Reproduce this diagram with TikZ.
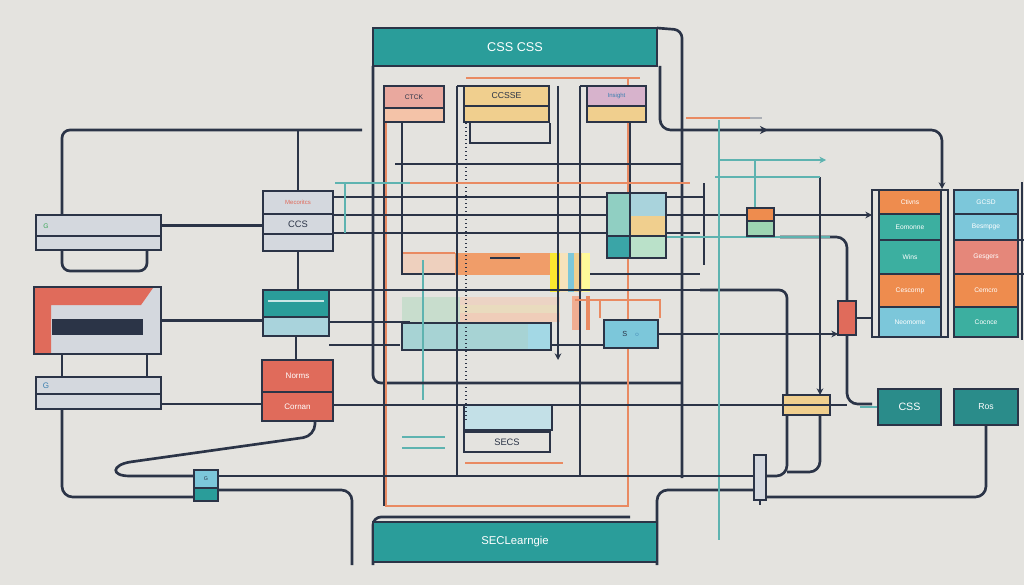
\documentclass[tikz,border=0pt]{standalone}
\usepackage{fontspec}
\setmainfont{Liberation Sans}
\usetikzlibrary{arrows.meta}
\pgfdeclarelayer{bgl}
\pgfdeclarelayer{back}
\pgfsetlayers{bgl,back,main}
\definecolor{bg}{HTML}{E4E3DF}
\definecolor{navy}{HTML}{2B3447}
\definecolor{tealA}{HTML}{2A9D9A}
\definecolor{tealB}{HTML}{3CAFA0}
\definecolor{tealC}{HTML}{2A8C8A}
\definecolor{coralA}{HTML}{E06B5B}
\definecolor{coralB}{HTML}{E5877A}
\definecolor{orangeA}{HTML}{EE8C4E}
\definecolor{lblueA}{HTML}{7CC7DA}
\definecolor{lblueB}{HTML}{A9D3DC}
\definecolor{sandA}{HTML}{F0CF8E}
\definecolor{pinkA}{HTML}{E9A89E}
\definecolor{peachA}{HTML}{F4C3A8}
\definecolor{lavA}{HTML}{D7B3CC}
\definecolor{grayA}{HTML}{D4D8DE}
\definecolor{mintA}{HTML}{9DD4B2}
\definecolor{greenA}{HTML}{3EA85A}
\definecolor{blueA}{HTML}{3A7FB0}
\definecolor{tealL}{HTML}{5EB3B0}
\definecolor{orangeL}{HTML}{E98A62}
\tikzset{
  box/.style={draw=navy,line width=2pt,inner sep=0pt,outer sep=0pt,text=white,font=\fontsize{6}{7}\selectfont},
  ln/.style={draw=navy,line width=2pt,rounded corners=6pt},
  tn/.style={draw=navy,line width=1.2pt},
  ol/.style={draw=orangeL,line width=1.3pt},
  tl/.style={draw=tealL,line width=0.8pt},
  arr/.style={-{Stealth[length=5pt,width=5pt]}},
}
\newcommand\bx[7]{%
  \pgfmathsetmacro\bxcx{(#2+#4)/2}%
  \pgfmathsetmacro\bxcy{(#3+#5)/2}%
  \pgfmathsetmacro\bxw{abs(#4-#2)*0.75}%
  \pgfmathsetmacro\bxh{abs(#5-#3)*0.75}%
  \node[box,#6,minimum width=\bxw pt,minimum height=\bxh pt] (#1) at (\bxcx,\bxcy) {#7};}
\begin{document}
\begin{tikzpicture}[x=0.75pt,y=-0.75pt]
\begin{pgfonlayer}{bgl}
\fill[bg] (0,0) rectangle (1024,585);
\end{pgfonlayer}
\useasboundingbox (0,0) rectangle (1024,585);

% ---------- boxes ----------
\bx{hdr}{373}{28}{657}{66}{fill=tealA,font=\fontsize{9.5}{11}\selectfont}{CSS CSS}
\bx{ftr}{373}{522}{657}{562}{fill=tealA,font=\fontsize{8.5}{10}\selectfont}{SECLearngie}
\bx{b1a}{384}{86}{444}{108}{fill=pinkA,text=navy,font=\fontsize{5}{6}\selectfont}{CTCK}
\bx{b1b}{384}{108}{444}{122}{fill=peachA}{}
\bx{b2a}{464}{86}{549}{106}{fill=sandA,text=navy,font=\fontsize{6.5}{7}\selectfont}{CCSSE}
\bx{b2b}{464}{106}{549}{122}{fill=sandA}{}
\bx{b3a}{587}{86}{646}{106}{fill=lavA,text=blueA,font=\fontsize{4.5}{5}\selectfont}{Insight}
\bx{b3b}{587}{106}{646}{122}{fill=sandA}{}

\bx{L1a}{36}{215}{161}{236}{fill=grayA}{}
\bx{L1b}{36}{236}{161}{250}{fill=grayA}{}
\bx{L2}{34}{287}{161}{354}{fill=grayA}{}
\fill[coralA] (35,288) -- (153,288) -- (141,305) -- (51,305) -- (51,353) -- (35,353) -- cycle;
\fill[navy] (52,319) rectangle (143,335);
\draw[navy,line width=2pt] (L2.north west) rectangle (L2.south east);
\bx{L3a}{36}{377}{161}{394}{fill=grayA}{}
\bx{L3b}{36}{394}{161}{409}{fill=grayA}{}
\node[font=\fontsize{5}{6}\selectfont,text=greenA] (g1) at (46,226) {G};
\node[font=\fontsize{6}{7}\selectfont,text=blueA] (g2) at (46,386) {G};

\bx{M1a}{263}{191}{333}{214}{fill=grayA,text=coralA,font=\fontsize{4.5}{5}\selectfont}{Mecoritcs}
\bx{M1b}{263}{214}{333}{234}{fill=grayA,text=navy,font=\fontsize{7}{8}\selectfont}{CCS}
\bx{M1c}{263}{234}{333}{251}{fill=grayA}{}
\bx{M2a}{263}{290}{329}{317}{fill=tealA}{}
\bx{M2b}{263}{317}{329}{336}{fill=lblueB}{}
\draw[white!75!tealA,line width=1.2pt] (268,301) -- (324,301);
\bx{M3a}{262}{360}{333}{392}{fill=coralA}{Norms}
\bx{M3b}{262}{392}{333}{421}{fill=coralA}{Cornan}
\bx{sb}{194}{470}{218}{488}{fill=lblueA,text=navy,font=\fontsize{4}{5}\selectfont}{G}
\bx{sbb}{194}{488}{218}{501}{fill=tealA}{}

\bx{r11}{879}{190}{941}{214}{fill=orangeA,font=\fontsize{5}{6}\selectfont}{Ctivns}
\bx{r12}{879}{214}{941}{240}{fill=tealB,font=\fontsize{5}{6}\selectfont}{Eomonne}
\bx{r13}{879}{240}{941}{274}{fill=tealB,font=\fontsize{5}{6}\selectfont}{Wins}
\bx{r14}{879}{274}{941}{307}{fill=orangeA,font=\fontsize{5}{6}\selectfont}{Cescornp}
\bx{r15}{879}{307}{941}{337}{fill=lblueA,font=\fontsize{5}{6}\selectfont}{Neomome}
\bx{r21}{954}{190}{1018}{214}{fill=lblueA,font=\fontsize{5}{6}\selectfont}{GCSD}
\bx{r22}{954}{214}{1018}{240}{fill=lblueA,font=\fontsize{5}{6}\selectfont}{Besmpge}
\bx{r23}{954}{240}{1018}{274}{fill=coralB,font=\fontsize{5}{6}\selectfont}{Gesgers}
\bx{r24}{954}{274}{1018}{307}{fill=orangeA,font=\fontsize{5}{6}\selectfont}{Cemcro}
\bx{r25}{954}{307}{1018}{337}{fill=tealB,font=\fontsize{5}{6}\selectfont}{Cocnce}
\bx{css}{878}{389}{941}{425}{fill=tealC,font=\fontsize{8}{9}\selectfont}{CSS}
\bx{ros}{954}{389}{1018}{425}{fill=tealC,font=\fontsize{6.5}{7}\selectfont}{Ros}

\bx{om1a}{747}{208}{774}{221}{fill=orangeA}{}
\bx{om1b}{747}{221}{774}{236}{fill=mintA}{}
\bx{ob}{838}{301}{856}{335}{fill=coralA}{}
\bx{sd}{783}{395}{830}{415}{fill=sandA}{}
\draw[navy,line width=1pt] (784,405) -- (829,405);
\bx{sbox}{604}{320}{658}{348}{fill=lblueA,text=navy,font=\fontsize{5.5}{6}\selectfont}{S\quad\textcolor{blueA}{$\circ$}}
\bx{secs}{464}{432}{550}{452}{fill=bg,text=navy,font=\fontsize{7}{8}\selectfont}{SECS}
\bx{sm}{754}{455}{766}{500}{fill=grayA,line width=1.5pt}{}

% centre coloured box
\bx{cbox}{607}{193}{666}{258}{fill=lblueB}{}
\fill[lblueB] (630,194) rectangle (665,216);
\fill[sandA] (630,216) rectangle (665,236);
\fill[mintA!70!white] (630,236) rectangle (665,257);
\fill[mintA!60!lblueA] (608,194) rectangle (630,236);
\fill[tealA!80!lblueA] (608,236) rectangle (630,257);
\draw[navy,line width=2pt] (cbox.north west) rectangle (cbox.south east);
\draw[navy,line width=1.2pt] (630,193) -- (630,258) (607,236) -- (666,236);

% ---------- lines ----------
\begin{pgfonlayer}{back}
% chaos fills in the centre
\fill[orangeA!85!white] (455,253) rectangle (550,275);
\fill[peachA!60!bg] (402,253) rectangle (455,273);
\draw[ol] (402,253) -- (455,253);
\draw[tn] (402,253) -- (402,274) -- (455,274);
\draw[navy,line width=1.5pt] (490,258) -- (520,258);
\fill[yellow!70!sandA] (550,253) rectangle (560,292);
\fill[sandA!60!white] (560,253) rectangle (568,292);
\fill[lblueA] (568,253) rectangle (574,292);
\fill[sandA] (574,253) rectangle (582,292);
\fill[yellow!40!white] (582,253) rectangle (590,292);
\fill[mintA!40!bg] (402,297) rectangle (460,322);
\fill[peachA!50!bg] (460,297) rectangle (560,305);
\fill[sandA!40!bg] (460,305) rectangle (560,313);
\fill[peachA!70!bg] (460,313) rectangle (560,322);
\fill[lblueB!80!mintA] (402,323) rectangle (550,350);
\fill[lblueA!70!white] (528,324) rectangle (551,349);
\draw[tn] (402,323) rectangle (551,350);
\fill[orangeL!70!white] (572,296) rectangle (580,330);
\draw[orangeL,line width=2.5pt] (588,296) -- (588,330);
\draw[ol] (600,318) -- (600,300) -- (660,300) -- (660,318);
\fill[lblueB!70!white] (464,405) rectangle (552,430);
\draw[tn] (464,405) rectangle (552,430);
\draw[ol] (465,463) -- (563,463);
\draw[tl] (402,437) -- (445,437) (402,448) -- (445,448) (423,260) -- (423,400);
\draw[navy,line width=1pt,dash pattern=on 1pt off 2pt] (466,123) -- (466,420);
\draw[tn] (470,123) -- (470,143) -- (550,143) -- (550,123);

% frame of the centre
\draw[ln] (hdr.south west) -- (373,383) -- (682,383);
\draw[ln] (hdr.north east) -- (682,30) -- (682,478);
\draw[ln,arr,rounded corners=8pt] (660,66) -- (660,130) -- (942,130) -- (942,189);
\draw[navy,-{Stealth[length=6pt,width=6pt]}] (755,130) -- (768,130);
\draw[ln] (373,565) -- (373,517) -- (630,517);
\draw[ln,rounded corners=8pt] (ftr.south east |- 0,565) -- (657,490) -- (sm.west |- 0,490);
\draw[ol] (386,120) -- (386,506) -- (628,506) -- (628,78) -- (466,78);
\draw[ol] (628,78) -- (640,78);
\draw[ln] (384,123) -- (384,506);
\draw[tn] (402,108) -- (402,253);
\draw[ln] (457,86) -- (457,477);
\draw[ln] (457,86) -- (b2a.north west);
\draw[ln,arr] (558,86) -- (558,360);
\draw[ln] (580,86) -- (580,477);
\draw[ln] (580,86) -- (b3a.north west);
\draw[tn] (630,86) -- (630,193);

% horizontals in the centre
\draw[ln] (395,164) -- (682,164);
\draw[ol] (410,183) -- (690,183);
\draw[ln] (333,197) -- (704,197);
\draw[tn] (704,183) -- (704,265);
\draw[ln] (M1b.east |- 0,233) -- (700,233);
\draw[ln] (M1b.east |- 0,215) -- (om1a.west |- 0,215);
\draw[ln,arr] (om1a.east |- 0,215) -- (872,215);
\draw[ln] (329,290) -- (700,290);
\draw[ln] (590,274) -- (700,274);
\draw[ol] (575,300) -- (600,300);
\draw[ln] (M2b.east |- 0,322) -- (410,322);
\draw[ln] (M2b.east |- 0,345) -- (400,345);
\draw[ln] (552,345) -- (sbox.west |- 0,345);
\draw[ln,arr] (sbox.east) -- (sbox.east -| ob.west);
\draw[ln] (sd.west -| M3b.east) -- (sd.west);
\draw[ln,rounded corners=8pt] (ob.south) -- (847,404) -- (872,404);
\draw[ln] (sd.east) -- (847,405);
\draw[tl] (860,407) -- (css.west);
\draw[ln] (ob.east) -- (872,318);
\draw[ln,rounded corners=8pt] (780,237) -- (847,237) -- (ob.north);
\draw[tl] (660,237) -- (830,237);
\draw[ln] (700,290) -- (787,290) -- (sd.north -| 787,0);
\draw[ln,arr] (820,177) -- (sd.north -| 820,0);
\draw[ln,rounded corners=8pt] (sd.south -| 787,0) -- (787,476) -- (754,476);
\draw[ln,rounded corners=8pt] (sd.south -| 820,0) -- (820,472) -- (787,472);
\draw[ln,rounded corners=8pt] (ros.south) |- (sm.east |- 0,497);
\draw[tn] (sm.south) -- (sm.south |- 0,505);

% thin teal lines on the right
\draw[tl] (719,120) -- (719,540);
\draw[tl] (755,160) -- (755,210);
\draw[tl,arr] (718,160) -- (826,160);
\draw[tl] (715,177) -- (820,177);
\draw[ol] (686,118) -- (750,118);
\draw[navy!40,line width=0.8pt] (750,118) -- (762,118);

% right column frames
\draw[tn] (872,190) rectangle (948,337);
\draw[tn] (1022,182) -- (1022,340);
\draw[tn] (1018,240) -- (1024,240) (1018,274) -- (1024,274);

% left side
\draw[ln] (62,215) -- (62,130) -- (362,130);
\draw[ln] (M1a.north) -- (M1a.north |- 0,130);
\draw[ln] (62,250) -- (62,271) -- (147,271) -- (147,233);
\draw[ln] (L1a.east) -- (L1a.east -| M1a.west);
\draw[ln] (L2.east) -- (L2.east -| M2b.west);
\draw[ln] (62,354) -- (62,377);
\draw[ln] (147,354) -- (147,377);
\draw[ln] (L3b.east |- 0,404) -- (M3b.west |- 0,404);
\draw[ln,rounded corners=8pt] (62,409) |- (sbb.west |- 0,497);
\draw[ln] (M1c.south) -- (M1c.south |- M2a.north);
\draw[ln] (M2b.south) -- (M2b.south |- M3a.north);
\draw[tl] (345,183) -- (345,233) (335,183) -- (410,183);
\draw[ln,rounded corners=9pt] (315,421) -- (315,436) -- (130,462);
\draw[navy,line width=2pt] (130,462) .. controls (112,465) and (110,476) .. (130,476) -- (sb.west |- 0,476);
\draw[ln] (sb.east |- 0,476) -- (754,476);
\draw[ln,rounded corners=8pt] (sbb.east |- 0,490) -- (352,490) -- (352,565);
\end{pgfonlayer}
\end{tikzpicture}
\end{document}
